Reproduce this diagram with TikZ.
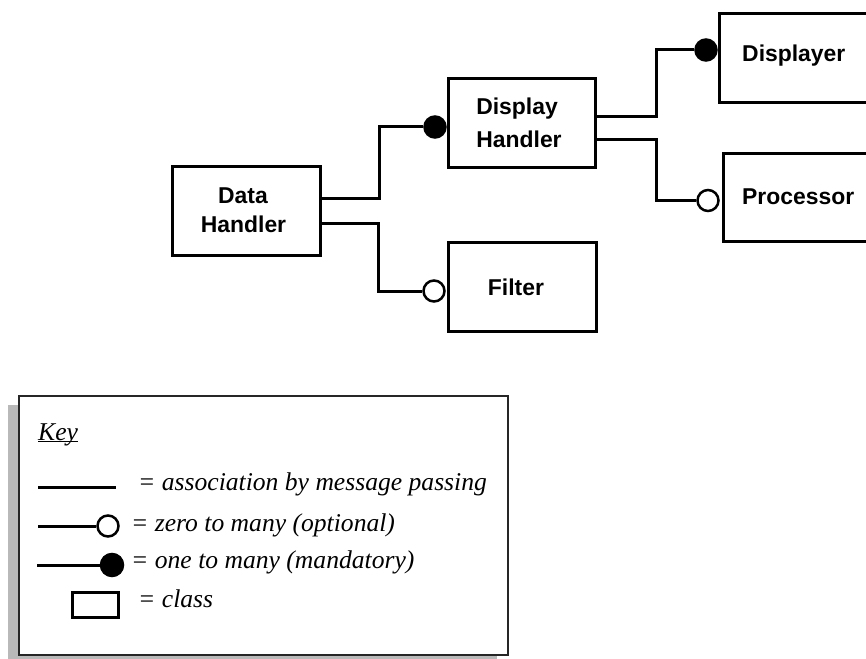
\documentclass[tikz,border=0pt]{standalone}
\usepackage{fontspec}
\setmainfont{Liberation Serif}
\setsansfont{Liberation Sans}
\begin{document}
\begin{tikzpicture}[x=1bp,y=-1bp,
  classbox/.style={draw,line width=3bp,rectangle,inner sep=0pt},
  lbl/.style={font=\sffamily\bfseries\fontsize{23}{28}\selectfont,inner sep=0pt,anchor=base},
  keytxt/.style={font=\itshape\fontsize{25.7}{30}\selectfont,inner sep=0pt,anchor=base west},
  conn/.style={line width=3bp},
  optend/.style={circle,draw,fill=white,line width=2.5bp,minimum size=21bp,inner sep=0pt},
  mandend/.style={circle,draw,fill=black,line width=2.5bp,minimum size=21bp,inner sep=0pt}]
\useasboundingbox (0,0) rectangle (866,659);
\clip (0,0) rectangle (866,659);

% classes
\node[classbox,minimum width=148bp,minimum height=89bp] (data) at (246.5,211) {};
\node[classbox,minimum width=147bp,minimum height=89bp] (disp) at (522,123) {};
\node[classbox,minimum width=148bp,minimum height=89bp] (filt) at (522.5,287) {};
\node[classbox,minimum width=160bp,minimum height=89bp] (dspr) at (799.5,58) {};
\node[classbox,minimum width=160bp,minimum height=88bp] (proc) at (803.5,197.5) {};

% class names
\node[lbl] (data1) at (243,203) {Data};
\node[lbl] (data2) at (243.5,232) {Handler};
\node[lbl] (disp1) at (517,114.5) {Display};
\node[lbl] (disp2) at (519,147.5) {Handler};
\node[lbl] (filtl) at (516,295) {Filter};
\node[lbl,anchor=base west] (dsprl) at (742,62) {Displayer};
\node[lbl,anchor=base west] (procl) at (742,204) {Processor};

% multiplicity ends
\node[mandend] (e1) at (435,127) {};
\node[optend]  (e2) at (434,291) {};
\node[mandend] (e3) at (706,50) {};
\node[optend]  (e4) at (708,200.5) {};

% associations
\draw[conn] (data.east |- 0,198) -- (379,198) |- (e1);
\draw[conn] (data.east |- 0,223) -- (378,223) |- (e2);
\draw[conn] (disp.east |- 0,117) -- (656,117) |- (e3);
\draw[conn] (disp.east |- 0,140) -- (656,140) |- (e4);

% key panel with its shadow
\fill[gray!55] (8,405) rectangle (497,664);
\node[draw=black!85,fill=white,line width=1.5bp,rectangle,inner sep=0pt,
      minimum width=489bp,minimum height=259bp] (key) at (263.5,525.5) {};

\node[keytxt] (keyt) at (38,440) {\underline{\smash{Key}}};

\coordinate (k1a) at (38,487);
\coordinate (k1b) at (116,487);
\draw[conn] (k1a) -- (k1b);
\node[keytxt] (k1t) at (138,490) {= association by message passing};

\coordinate (k2a) at (38,526);
\node[optend] (k2e) at (108,526) {};
\draw[conn] (k2a) -- (k2e);
\node[keytxt] (k2t) at (131,531) {= zero to many (optional)};

\coordinate (k3a) at (37,565);
\node[mandend,minimum size=22bp] (k3e) at (112,565) {};
\draw[conn] (k3a) -- (k3e);
\node[keytxt] (k3t) at (131,568) {= one to many (mandatory)};

\node[classbox,minimum width=46bp,minimum height=25bp] (k4e) at (95,604.5) {};
\node[keytxt] (k4t) at (138,607) {= class};
\end{tikzpicture}
\end{document}
